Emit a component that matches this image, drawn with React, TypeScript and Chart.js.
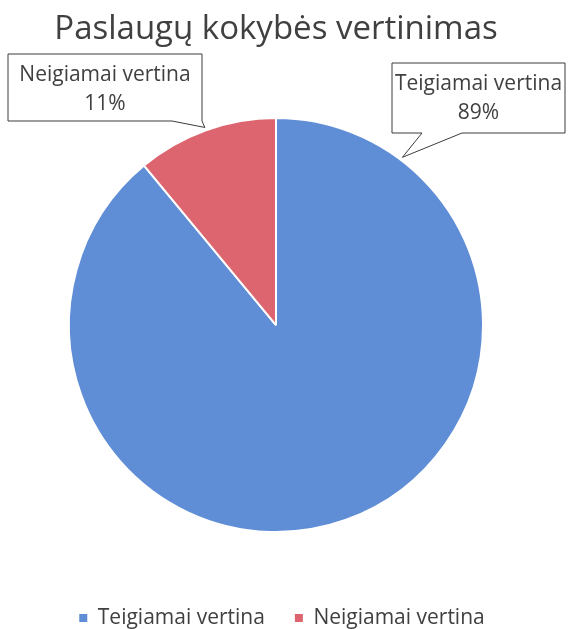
import React, { useEffect, useRef } from 'react';
import { Chart, registerables } from 'chart.js';

Chart.register(...registerables);

const TITLE = 'Paslaugų kokybės vertinimas';
const CATEGORIES = ['Teigiamai vertina', 'Neigiamai vertina'];
const VALUES = [89, 11];
const COLORS = ['#5F8DD6', '#DC6570'];

const TEXT_COLOR = '#404040';
const FONT = "'Open Sans', 'Noto Sans', sans-serif";

// Callout boxes (label placement) for each slice
const CALLOUTS = [
  { index: 0, box: { l: 392, t: 63, r: 565, b: 133 }, base: [422, 462], tipAngleDeg: -53 },
  { index: 1, box: { l: 8, t: 54, r: 202, b: 121 }, base: [172, 202], tipAngleDeg: null as number | null },
];

const LEGEND_SHIFT_X = 6;

const calloutPlugin = {
  id: 'callouts',
  afterLayout(chart: any) {
    const lg = chart.legend;
    if (lg) {
      lg.left += LEGEND_SHIFT_X;
      lg.right += LEGEND_SHIFT_X;
    }
  },
  afterDatasetsDraw(chart: any) {
    const meta = chart.getDatasetMeta(0);
    const ctx = chart.ctx as CanvasRenderingContext2D;
    const total = VALUES.reduce((a, b) => a + b, 0);
    CALLOUTS.forEach((c) => {
      const arc = meta.data[c.index];
      if (!arc) return;
      const p = arc.getProps(['x', 'y', 'outerRadius', 'startAngle', 'endAngle'], true);
      const ang = c.tipAngleDeg === null ? (p.startAngle + p.endAngle) / 2 : (c.tipAngleDeg * Math.PI) / 180;
      const tx = p.x + Math.cos(ang) * (p.outerRadius + 3);
      const ty = p.y + Math.sin(ang) * (p.outerRadius + 3);
      const { l, t, r, b } = c.box;
      ctx.save();
      ctx.beginPath();
      ctx.moveTo(l, t);
      ctx.lineTo(r, t);
      ctx.lineTo(r, b);
      ctx.lineTo(c.base[1], b);
      ctx.lineTo(tx, ty);
      ctx.lineTo(c.base[0], b);
      ctx.lineTo(l, b);
      ctx.closePath();
      ctx.fillStyle = '#ffffff';
      ctx.fill();
      ctx.strokeStyle = '#3c3c3c';
      ctx.lineWidth = 1;
      ctx.stroke();
      ctx.fillStyle = TEXT_COLOR;
      ctx.font = `21px ${FONT}`;
      ctx.textAlign = 'center';
      ctx.textBaseline = 'middle';
      const cx = (l + r) / 2;
      ctx.fillText(CATEGORIES[c.index], cx, t + 21);
      ctx.fillText(Math.round((VALUES[c.index] / total) * 100) + '%', cx, t + 50);
      ctx.restore();
    });
  },
};

export default function App() {
  const ref = useRef<HTMLCanvasElement | null>(null);
  useEffect(() => {
    if (!ref.current) return;
    const chart = new Chart(ref.current, {
      type: 'pie',
      data: {
        labels: CATEGORIES,
        datasets: [
          {
            data: VALUES,
            backgroundColor: COLORS,
            borderColor: '#ffffff',
            borderWidth: 2,
            radius: 207,
          } as any,
        ],
      },
      options: {
        responsive: false,
        animation: false,
        devicePixelRatio: 1,
        layout: { padding: { left: 0, right: 19, top: 0, bottom: -9.5 } },
        plugins: {
          title: {
            display: true,
            text: TITLE,
            color: TEXT_COLOR,
            font: { family: FONT, size: 33, weight: 'normal', lineHeight: 1.2 },
            padding: { top: 10, bottom: 23 },
          },
          legend: {
            display: true,
            position: 'bottom',
            labels: {
              color: TEXT_COLOR,
              font: { family: FONT, size: 21 },
              boxWidth: 8,
              boxHeight: 8,
              padding: 30,
              generateLabels: () =>
                CATEGORIES.map((text, i) => ({
                  text,
                  fillStyle: COLORS[i],
                  strokeStyle: COLORS[i],
                  lineWidth: 0,
                  hidden: false,
                  index: i,
                  fontColor: TEXT_COLOR,
                })),
            },
          },
          tooltip: { enabled: false },
        },
      } as any,
      plugins: [calloutPlugin],
    });
    return () => chart.destroy();
  }, []);
  return (
    <div style={{ position: 'absolute', left: 0, top: 0, width: 571, height: 629, background: '#fff' }}>
      <canvas ref={ref} width={571} height={629} style={{ display: 'block' }} />
    </div>
  );
}
